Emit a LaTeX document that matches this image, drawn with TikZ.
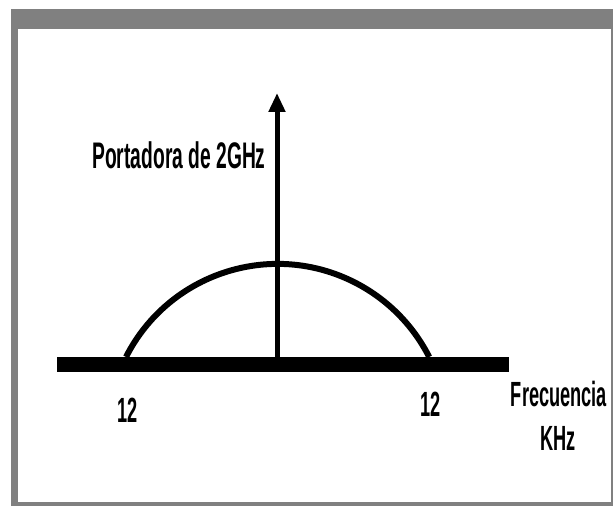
\documentclass[tikz,border=0pt]{standalone}
\usepackage{fontspec}
\setmainfont{Liberation Sans}
\usetikzlibrary{arrows.meta}
\newcommand{\condtext}[1]{\scalebox{0.52}[1]{\bfseries #1}}
\tikzset{
  lbl/.style={inner sep=0pt,anchor=base,font=\fontsize{35}{40}\selectfont},
  biglbl/.style={lbl,font=\fontsize{37}{42}\selectfont},
}
\begin{document}
\begin{tikzpicture}[x=1pt,y=1pt]
  \useasboundingbox (0,0) rectangle (613,506);
  \fill[white] (0,0) rectangle (613,506);
  \fill[color=gray] (11,0) rectangle (613,497);
  \fill[white] (18,4) rectangle (611,477);

  \coordinate (axl) at (57,141.5);
  \coordinate (axr) at (509,141.5);
  \coordinate (orig) at (277,141.5);
  \coordinate (tip) at (277,413);
  \coordinate (low) at (126,149);

  \draw [line width=6pt] (low) arc[start angle=153.1,end angle=26.9,radius=170];
  \draw [line width=15pt] (axl) -- (axr);
  \draw [line width=5pt,-{Triangle[length=19pt,width=16pt]}] (orig) -- (tip);

  \node (carrier) [biglbl] at (179,337) {\condtext{Portadora de 2GHz}};
  \node (lowlbl) [lbl] at (128,83) {\condtext{12}};
  \node (highlbl) [lbl] at (430.5,89) {\condtext{12}};
  \node (freq) [lbl] at (559,99) {\condtext{Frecuencia}};
  \node (unit) [lbl] at (558,55) {\condtext{KHz}};
\end{tikzpicture}
\end{document}
